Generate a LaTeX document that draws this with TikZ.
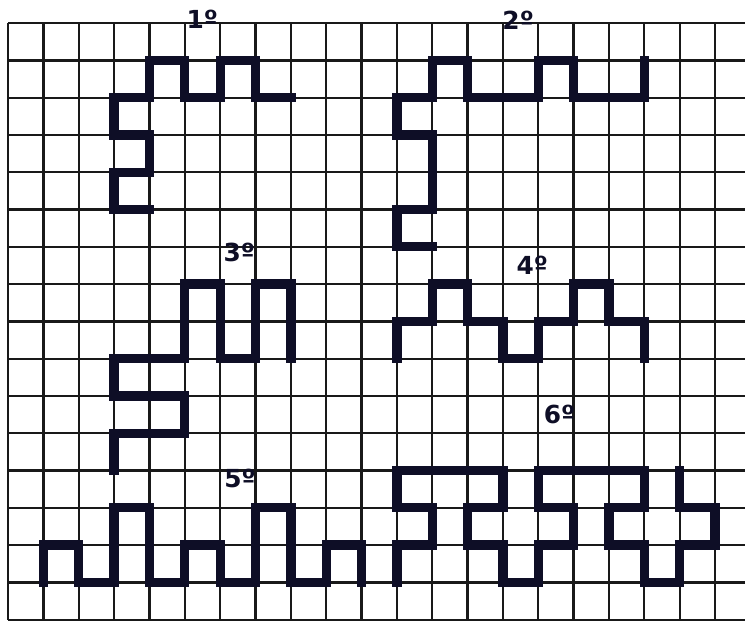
\documentclass[tikz,border=0pt]{standalone}
\usepackage{fontspec}
\setsansfont{DejaVu Sans}
\usepackage{tikz}
\usepackage{xcolor}

\definecolor{inkblue}{RGB}{14,14,38}

\begin{document}
\begin{tikzpicture}[
        x=1cm, y=-1.055cm,
        every node/.style={font=\sffamily\bfseries\fontsize{20}{20}\selectfont, text=inkblue},
        gridline/.style={
            draw=black!90,
            line width=1.8pt
        },
        figline/.style={
            draw=inkblue,
            line width=7.5pt,
            line cap=rect,
            line join=miter
        }
    ]

    \useasboundingbox (-0.23,-0.62) rectangle (20.85,16.09);

    % Squared paper
    \foreach \c in {0,...,20}
        \draw[gridline] (\c,0) -- (\c,16);
    \foreach \r in {0,...,16}
        \draw[gridline] (0,\r) -- (20.85,\r);

    % Labels
    \node (lblone)   at (5.49,-0.10) {1º};
    \node (lbltwo)   at (14.43,-0.08) {2º};
    \node (lblthree) at (6.54,6.14) {3º};
    \node (lblfour)  at (14.83,6.50) {4º};
    \node (lblfive)  at (6.56,12.20) {5º};
    \node (lblsix)   at (15.60,10.50) {6º};

    % First figure
    \draw[figline] (4,5) -- (3,5) -- (3,4) -- (4,4) -- (4,3) -- (3,3)
        -- (3,2) -- (4,2) -- (4,1) -- (5,1) -- (5,2) -- (6,2)
        -- (6,1) -- (7,1) -- (7,2) -- (8,2);

    % Second figure
    \draw[figline] (12,6) -- (11,6) -- (11,5) -- (12,5) -- (12,3) -- (11,3)
        -- (11,2) -- (12,2) -- (12,1) -- (13,1) -- (13,2) -- (15,2)
        -- (15,1) -- (16,1) -- (16,2) -- (18,2) -- (18,1);

    % Third figure
    \draw[figline] (3,12) -- (3,11) -- (5,11) -- (5,10) -- (3,10) -- (3,9)
        -- (5,9) -- (5,7) -- (6,7) -- (6,9) -- (7,9) -- (7,7)
        -- (8,7) -- (8,9);

    % Fourth figure
    \draw[figline] (11,9) -- (11,8) -- (12,8) -- (12,7) -- (13,7) -- (13,8)
        -- (14,8) -- (14,9) -- (15,9) -- (15,8) -- (16,8) -- (16,7)
        -- (17,7) -- (17,8) -- (18,8) -- (18,9);

    % Fifth figure
    \draw[figline] (1,15) -- (1,14) -- (2,14) -- (2,15) -- (3,15) -- (3,13)
        -- (4,13) -- (4,15) -- (5,15) -- (5,14) -- (6,14) -- (6,15)
        -- (7,15) -- (7,13) -- (8,13) -- (8,15) -- (9,15) -- (9,14)
        -- (10,14) -- (10,15);

    % Sixth figure
    \draw[figline] (11,15) -- (11,14) -- (12,14) -- (12,13) -- (11,13) -- (11,12)
        -- (14,12) -- (14,13) -- (13,13) -- (13,14) -- (14,14) -- (14,15)
        -- (15,15) -- (15,14) -- (16,14) -- (16,13) -- (15,13) -- (15,12)
        -- (18,12) -- (18,13) -- (17,13) -- (17,14) -- (18,14) -- (18,15)
        -- (19,15) -- (19,14) -- (20,14) -- (20,13) -- (19,13) -- (19,12);

\end{tikzpicture}
\end{document}
